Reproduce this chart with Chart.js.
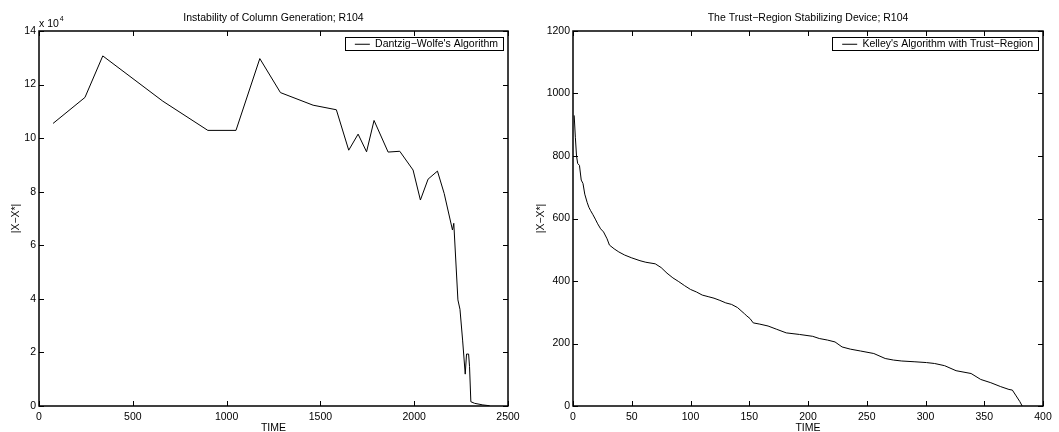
<!DOCTYPE html>
<html>
<head>
<meta charset="utf-8">
<script src="https://cdn.jsdelivr.net/npm/chart.js@4.4.0/dist/chart.umd.min.js"></script>
<style>
  html, body { margin: 0; padding: 0; background: #fff; overflow: hidden; }
  .box { position: absolute; top: 0; height: 432px; }
  #left { left: 0; width: 530px; }
  #right { left: 530px; width: 529px; }
</style>
</head>
<body>
<div class="box" id="left"><canvas id="dwChart"></canvas></div>
<div class="box" id="right"><canvas id="trChart"></canvas></div>
<script>
// Dantzig-Wolfe (left panel)
const dwTime = [75, 245, 340, 660, 900, 1050, 1177, 1287, 1461, 1585, 1651, 1701, 1746, 1786, 1861, 1923,
    1994, 2033, 2074, 2124, 2160, 2204, 2211, 2233, 2244, 2258, 2272, 2279, 2290, 2295, 2302, 2322, 2366, 2402];
const dwDist = [105500, 115200, 130700, 113800, 102900, 102900, 129700, 117000, 112300, 110600, 95500, 101500,
    94900, 106600, 94800, 95100, 88100, 76900, 84700, 87700, 79300, 65700, 68200, 39600, 36100, 24600,
    11900, 19400, 19400, 14700, 1600, 1000, 400, 100];

// Kelley with trust region (right panel)
const trTime = [1, 2, 3, 4, 5.5, 7, 8.5, 10, 12, 13.5, 15, 17, 19, 21, 23.5, 26, 29, 31, 35, 39, 44, 50,
    57, 62, 70, 75, 80, 85, 90, 95, 100, 105, 110, 115, 120, 125, 130, 135, 140, 143, 146, 148,
    150.6, 153.4, 159, 166, 173, 181.5, 192.7, 204, 209.6, 216.6, 223, 229, 236, 244.7, 256, 265.7,
    272.8, 279.8, 291, 300.8, 307.8, 316.3, 326, 338.8, 347, 355.6, 364, 371, 373.9, 376.7, 380.3, 382.3];
const trDist = [930, 860, 800, 776, 770, 723, 712, 678, 652, 636, 625, 612, 598, 583, 567, 557, 535, 515, 503, 493, 483, 474,
    465, 460, 455, 443, 425, 410, 398, 385, 373, 365, 355, 350, 345, 338, 330, 325, 315, 305, 295, 288,
    280, 266, 262, 256, 246, 234, 229, 223, 216, 211, 205, 189, 182, 176, 168, 152,
    147, 144, 141.5, 139, 136, 129, 113, 104, 85, 74.5, 62, 53, 51, 35, 14, 0];

const xTicksLeft = [0, 500, 1000, 1500, 2000, 2500];
const xTicksRight = [0, 50, 100, 150, 200, 250, 300, 350, 400];

Chart.defaults.font.family = '"Liberation Sans", Arial, Helvetica, sans-serif';
Chart.defaults.font.size = 10.5;
Chart.defaults.color = '#000';

// box around the axes, inward ticks, bordered legend in the top right corner
const framePlugin = {
    id: 'frame',
    afterUpdate(chart) {
        const lg = chart.legend;
        const a = chart.chartArea;
        if (!lg) return;
        const w = lg.width, h = lg.height;
        lg.left = a.right - w;
        lg.right = a.right;
        lg.top = a.top;
        lg.bottom = a.top + h;
    },
    afterDraw(chart) {
        const { ctx, chartArea: a, scales } = chart;
        ctx.save();
        ctx.strokeStyle = '#000';
        ctx.lineWidth = 1;
        ctx.beginPath();
        scales.x.ticks.forEach(t => {
            const px = Math.round(scales.x.getPixelForValue(t.value)) + 0.5;
            ctx.moveTo(px, a.bottom); ctx.lineTo(px, a.bottom - 5);
            ctx.moveTo(px, a.top); ctx.lineTo(px, a.top + 5);
        });
        scales.y.ticks.forEach(t => {
            const py = Math.round(scales.y.getPixelForValue(t.value)) + 0.5;
            ctx.moveTo(a.left, py); ctx.lineTo(a.left + 5, py);
            ctx.moveTo(a.right, py); ctx.lineTo(a.right - 5, py);
        });
        ctx.stroke();
        ctx.lineWidth = 1.5;
        ctx.strokeRect(a.left, a.top, a.width, a.height);

        const lg = chart.legend;
        const hb = lg && lg.legendHitBoxes && lg.legendHitBoxes[0];
        if (hb) {
            const pad = lg.options.labels.padding;
            const x0 = lg.left + pad, y0 = lg.top + pad;
            ctx.lineWidth = 1;
            ctx.strokeRect(Math.round(x0 - 10) + 0.5, Math.round(y0 - 2) + 0.5,
                Math.round(hb.width + 15), Math.round(hb.height + 2.5));
        }

        const exp = chart.options.plugins.frame && chart.options.plugins.frame.exponent;
        if (exp) {
            ctx.fillStyle = '#000';
            ctx.textBaseline = 'alphabetic';
            ctx.textAlign = 'left';
            ctx.font = '10.5px "Liberation Sans", Arial, sans-serif';
            ctx.fillText('x 10', a.left, 27);
            const w = ctx.measureText('x 10').width;
            ctx.font = '7px "Liberation Sans", Arial, sans-serif';
            ctx.fillText(exp, a.left + w + 1, 21);
        }
        ctx.restore();
    }
};

function makeChart(id, cfg) {
    const points = cfg.time.map((t, i) => ({ x: t, y: cfg.dist[i] }));
    return new Chart(document.getElementById(id), {
        type: 'line',
        data: {
            datasets: [{
                label: cfg.label,
                data: points,
                borderColor: '#000',
                backgroundColor: '#000',
                borderWidth: 1,
                pointRadius: 0,
                tension: 0
            }]
        },
        options: {
            responsive: true,
            maintainAspectRatio: false,
            animation: false,
            events: [],
            layout: { padding: { left: cfg.padLeft, right: cfg.padRight, top: 0, bottom: 0 } },
            scales: {
                x: {
                    type: 'linear',
                    min: 0,
                    max: cfg.xMax,
                    afterBuildTicks: s => { s.ticks = cfg.xTicks.map(v => ({ value: v })); },
                    ticks: { padding: 5, maxRotation: 0, autoSkip: false, color: '#000', callback: v => String(v) },
                    grid: { display: false, drawTicks: false },
                    border: { display: false },
                    title: { display: true, text: 'TIME', color: '#000', padding: { top: 0, bottom: -2 } },
                    afterFit: s => { s.height = 26; }
                },
                y: {
                    min: 0,
                    max: cfg.yMax,
                    ticks: { stepSize: cfg.yStep, padding: 3, color: '#000', callback: cfg.yLabel },
                    grid: { display: false, drawTicks: false },
                    border: { display: false },
                    title: { display: true, text: '|X\u2212X*|', color: '#000', padding: 0 },
                    afterFit: s => { s.width = cfg.yWidth; }
                }
            },
            plugins: {
                title: {
                    display: true,
                    text: cfg.title,
                    color: '#000',
                    fullSize: false,
                    font: { size: 10.5, weight: 'normal' },
                    padding: { top: 12, bottom: 6.4 }
                },
                legend: {
                    position: 'chartArea',
                    align: 'start',
                    labels: {
                        usePointStyle: true,
                        pointStyle: 'line',
                        pointStyleWidth: 15,
                        padding: 8,
                        color: '#000'
                    }
                },
                tooltip: { enabled: false },
                frame: { exponent: cfg.exponent }
            }
        },
        plugins: [framePlugin]
    });
}

makeChart('dwChart', {
    time: dwTime, dist: dwDist,
    label: 'Dantzig\u2212Wolfe\'s Algorithm',
    title: 'Instability of Column Generation; R104',
    xMax: 2500, xTicks: xTicksLeft,
    yMax: 140000, yStep: 20000, yLabel: v => String(v / 10000),
    padLeft: 10, padRight: 22, yWidth: 29,
    exponent: '4'
});

makeChart('trChart', {
    time: trTime, dist: trDist,
    label: 'Kelley\'s Algorithm with Trust\u2212Region',
    title: 'The Trust\u2212Region Stabilizing Device; R104',
    xMax: 400, xTicks: xTicksRight,
    yMax: 1200, yStep: 200, yLabel: v => String(v),
    padLeft: 5, padRight: 16, yWidth: 38,
    exponent: null
});
</script>
</body>
</html>
